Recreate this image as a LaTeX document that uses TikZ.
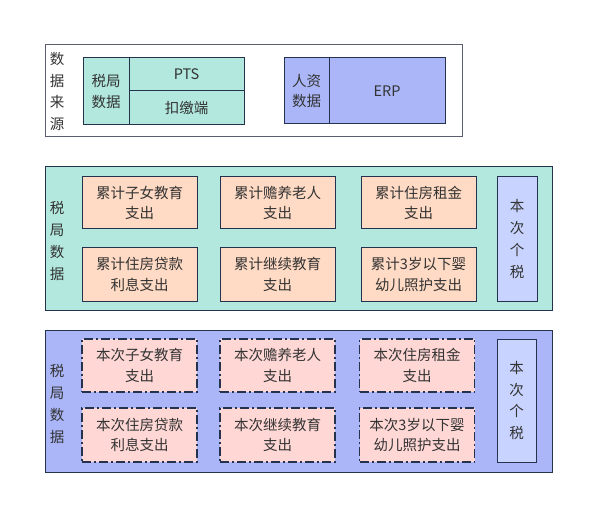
\documentclass[tikz,border=0pt]{standalone}
\usepackage{fontspec}
\setmainfont{Noto Sans CJK SC}
\usepackage{tikz}
\definecolor{tealbg}{RGB}{178,232,222}
\definecolor{bluebg}{RGB}{170,182,248}
\definecolor{peach}{RGB}{255,218,196}
\definecolor{pinkish}{RGB}{255,216,214}
\definecolor{lightblue}{RGB}{200,212,255}
\definecolor{navy}{RGB}{36,50,78}
\definecolor{framegray}{RGB}{90,94,110}
\definecolor{txt}{RGB}{51,51,51}
\pgfdeclarelayer{panellayer}
\pgfdeclarelayer{nodelayer}
\pgfsetlayers{panellayer,nodelayer,main}
\tikzstyle{panel}=[rectangle,draw=navy,line width=1pt,inner sep=0pt]
\tikzstyle{cell}=[rectangle,draw=navy,line width=1pt,inner sep=0pt,align=center,text=txt,font=\fontsize{14.5}{20.5}\selectfont]
\tikzstyle{item}=[cell,fill=peach,minimum width=115pt,minimum height=52pt]
\tikzstyle{pending}=[cell,fill=pinkish,minimum width=115pt,minimum height=53pt,line width=1.8pt,dash pattern=on 9pt off 3pt on 2pt off 3pt]
\tikzstyle{sidetext}=[align=center,text=txt,font=\fontsize{14.5}{21.8}\selectfont]

\begin{document}
\begin{tikzpicture}[x=1pt,y=-1pt]
        \useasboundingbox (0,0) rectangle (595,516);
        \begin{pgfonlayer}{panellayer}
            \node [style = panel, draw=framegray, fill=white, minimum width=417pt, minimum height=92pt] (source) at (253.5, 91) {};
            \node [style = panel, fill=tealbg, minimum width=507pt, minimum height=143pt] (taxcum) at (298.5, 238.5) {};
            \node [style = panel, fill=bluebg, minimum width=507pt, minimum height=142pt] (taxnow) at (298.5, 401) {};
        \end{pgfonlayer}

        \begin{pgfonlayer}{nodelayer}
            % data source
            \node [style = sidetext] (srclabel) at (57, 91.5) {数\\据\\来\\源};
            \node [style = cell, fill=tealbg, minimum width=46pt, minimum height=67pt] (bureau) at (106, 91.5) {税局\\数据};
            \node [style = cell, fill=tealbg, minimum width=115pt, minimum height=33pt] (pts) at (186.5, 74.5) {PTS};
            \node [style = cell, fill=tealbg, minimum width=115pt, minimum height=34pt] (withhold) at (186.5, 108) {扣缴端};
            \node [style = cell, fill=bluebg, minimum width=45pt, minimum height=66pt] (hr) at (306.5, 91) {人资\\数据};
            \node [style = cell, fill=bluebg, minimum width=116pt, minimum height=66pt] (erp) at (387, 91) {ERP};

            % cumulative
            \node [style = sidetext] (cumlabel) at (57, 241) {税\\局\\数\\据};
            \node [style = item] (cchild) at (139.5, 203) {累计子女教育\\支出};
            \node [style = item] (celder) at (277.5, 203) {累计赡养老人\\支出};
            \node [style = item] (crent) at (418.5, 203) {累计住房租金\\支出};
            \node [style = item, minimum height=53pt] (cloan) at (139.5, 274.5) {累计住房贷款\\利息支出};
            \node [style = item, minimum height=53pt] (cedu) at (277.5, 274.5) {累计继续教育\\支出};
            \node [style = item, minimum height=53pt] (cinfant) at (418.5, 274.5) {累计3岁以下婴\\幼儿照护支出};
            \node [style = sidetext, draw=navy, line width=1pt, fill=lightblue, minimum width=40pt, minimum height=124pt, inner sep=0pt] (ctax) at (517, 239) {本\\次\\个\\税};

            % current
            \node [style = sidetext] (nowlabel) at (57, 404) {税\\局\\数\\据};
            \node [style = pending] (nchild) at (139.5, 365.5) {本次子女教育\\支出};
            \node [style = pending] (nelder) at (277.5, 365.5) {本次赡养老人\\支出};
            \node [style = pending] (nrent) at (417, 365.5) {本次住房租金\\支出};
            \node [style = pending, minimum height=54pt] (nloan) at (139.5, 435) {本次住房贷款\\利息支出};
            \node [style = pending, minimum height=54pt] (nedu) at (277.5, 435) {本次继续教育\\支出};
            \node [style = pending, minimum height=54pt] (ninfant) at (417, 435) {本次3岁以下婴\\幼儿照护支出};
            \node [style = sidetext, draw=navy, line width=1pt, fill=lightblue, minimum width=39pt, minimum height=123pt, inner sep=0pt] (ntax) at (516.5, 400.5) {本\\次\\个\\税};
        \end{pgfonlayer}
    \end{tikzpicture}
\end{document}
